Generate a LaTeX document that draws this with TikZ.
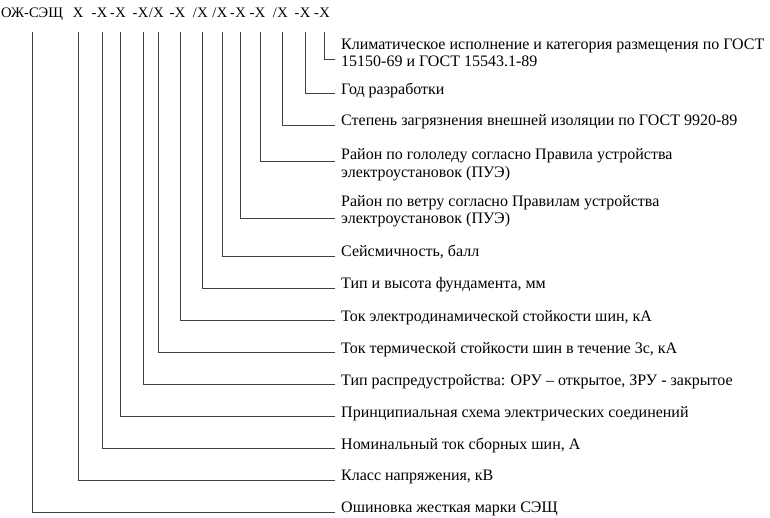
\documentclass[tikz,border=0pt]{standalone}
\usepackage{fontspec}
\setmainfont{Liberation Serif}
\usetikzlibrary{calc}
\tikzset{
  conn/.style={draw=black!75, line width=1pt},
  hx/.style={inner sep=0pt, anchor=base, font=\fontsize{14.5}{17.5}\selectfont},
  hp/.style={inner sep=0pt, anchor=base east, font=\fontsize{14.5}{17.5}\selectfont},
  lab/.style={inner sep=0pt, anchor=base west, font=\fontsize{16}{17.5}\selectfont},
}
\newcommand{\twol}[2]{\begin{tabular}[t]{@{}l@{}}#1\\#2\end{tabular}}
\begin{document}
\begin{tikzpicture}[x=1pt,y=-1pt]
\useasboundingbox (0,0) rectangle (770,518);
% header
\node[hx] (H0) at (32,18) {ОЖ-СЭЩ};
\node[hx] (X1) at (78,18) {Х};
\node[hx] (X2) at (102,18) {Х};   \node[hp] (P2) at (X2.base west) {-};
\node[hx] (X3) at (120.5,18) {Х}; \node[hp] (P3) at (X3.base west) {-};
\node[hx] (X4) at (143,18) {Х};   \node[hp] (P4) at (X4.base west) {-};
\node[hx] (X5) at (158.5,18) {Х}; \node[hp] (P5) at (X5.base west) {/};
\node[hx] (X6) at (180,18) {Х};   \node[hp] (P6) at (X6.base west) {-};
\node[hx] (X7) at (202.5,18) {Х}; \node[hp] (P7) at (X7.base west) {/};
\node[hx] (X8) at (222,18) {Х};   \node[hp] (P8) at (X8.base west) {/};
\node[hx] (X9) at (240.5,18) {Х}; \node[hp] (P9) at (X9.base west) {-};
\node[hx] (X10) at (260,18) {Х};  \node[hp] (P10) at (X10.base west) {-};
\node[hx] (X11) at (282.5,18) {Х};\node[hp] (P11) at (X11.base west) {/};
\node[hx] (X12) at (305,18) {Х};  \node[hp] (P12) at (X12.base west) {-};
\node[hx] (X13) at (324.5,18) {Х};\node[hp] (P13) at (X13.base west) {-};
% labels
\node[lab] (L1) at (341,49.5) {\twol{Климатическое исполнение и категория размещения по ГОСТ}{15150-69 и ГОСТ 15543.1-89}};
\node[lab] (L2) at (341,94.5) {Год разработки};
\node[lab] (L3) at (341,126) {Степень загрязнения внешней изоляции по ГОСТ 9920-89};
\node[lab] (L4) at (341,160) {\twol{Район по гололеду согласно Правила устройства}{электроустановок (ПУЭ)}};
\node[lab] (L5) at (341,206.5) {\twol{Район по ветру согласно Правилам устройства}{электроустановок (ПУЭ)}};
\node[lab] (L6) at (341,257) {Сейсмичность, балл};
\node[lab] (L7) at (341,289) {Тип и высота фундамента, мм};
\node[lab] (L8) at (341,321) {Ток электродинамической стойкости шин, кА};
\node[lab] (L9) at (341,353) {Ток термической стойкости шин в течение 3с, кА};
\node[lab] (L10) at (341,385) {Тип распредустройства: ОРУ – открытое, ЗРУ - закрытое};
\node[lab] (L11) at (341,417) {Принципиальная схема электрических соединений};
\node[lab] (L12) at (341,449) {Номинальный ток сборных шин, А};
\node[lab] (L13) at (341,480.5) {Класс напряжения, кВ};
\node[lab] (L14) at (341,512.5) {Ошиновка жесткая марки СЭЩ};
% connectors
\draw[conn] ([yshift=-14pt]X13.base) |- ($(L1.base west)+(-6,10.5)$);
\draw[conn] ([yshift=-14pt]X12.base) |- ($(L2.base west)+(-6,-0.5)$);
\draw[conn] ([yshift=-14pt]X11.base) |- ($(L3.base west)+(-6,-0.5)$);
\draw[conn] ([yshift=-14pt]X10.base) |- ($(L4.base west)+(-6,2)$);
\draw[conn] ([yshift=-14pt]X9.base) |- ($(L5.base west)+(-6,12.5)$);
\draw[conn] ([yshift=-14pt]X8.base) |- ($(L6.base west)+(-6,-0.5)$);
\draw[conn] ([yshift=-14pt]X7.base) |- ($(L7.base west)+(-6,-0.5)$);
\draw[conn] ([yshift=-14pt]X6.base) |- ($(L8.base west)+(-6,-0.5)$);
\draw[conn] ([yshift=-14pt]X5.base) |- ($(L9.base west)+(-6,-0.5)$);
\draw[conn] ([yshift=-14pt]X4.base) |- ($(L10.base west)+(-6,-0.5)$);
\draw[conn] ([yshift=-14pt]X3.base) |- ($(L11.base west)+(-6,-0.5)$);
\draw[conn] ([yshift=-14pt]X2.base) |- ($(L12.base west)+(-6,-0.5)$);
\draw[conn] ([yshift=-14pt]X1.base) |- ($(L13.base west)+(-6,-0.5)$);
\draw[conn] ([yshift=-14pt]H0.base) |- ($(L14.base west)+(-6,-0.5)$);
\end{tikzpicture}
\end{document}
